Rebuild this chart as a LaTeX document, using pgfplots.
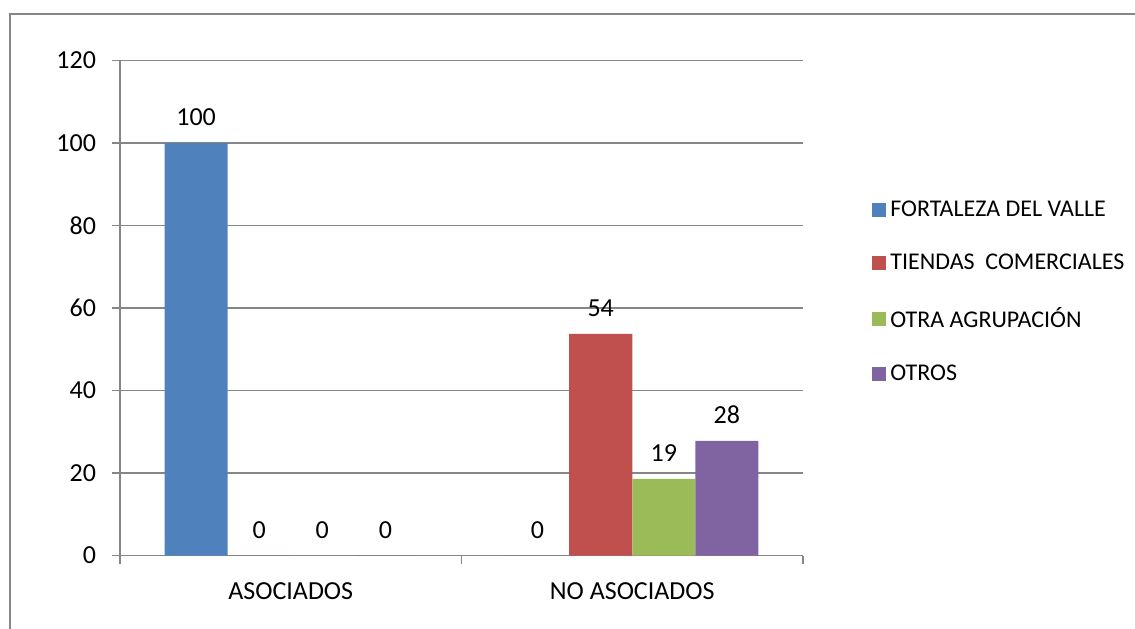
\documentclass[border=0pt]{standalone}
\usepackage{fontspec}
\setmainfont{Carlito}
\usepackage{pgfplots}
\pgfplotsset{compat=1.18}
\definecolor{cA}{HTML}{4F81BD}
\definecolor{cB}{HTML}{C0504D}
\definecolor{cC}{HTML}{9BBB59}
\definecolor{cD}{HTML}{8064A2}
\definecolor{gridc}{HTML}{868686}
\pgfplotsset{sq/.style={legend image code/.code={\fill[##1] (0pt,-3.5pt) rectangle (7pt,3.5pt);}}}
\begin{document}
\begin{tikzpicture}
\useasboundingbox (0pt,0pt) rectangle (567.5pt,-314pt);
\begin{scope}
\clip (0pt,0pt) rectangle (567.5pt,-314pt);
\draw[gridc, line width=0.7pt] (5pt,-330pt) -- (5pt,-7pt) -- (600pt,-7pt);
\end{scope}
\begin{axis}[
  at={(60pt,-277.75pt)}, anchor=south west,
  scale only axis, width=341.5pt, height=247.5pt,
  xmin=-0.5, xmax=1.5, ymin=0, ymax=120,
  ytick={0,20,...,120},
  xtick={-0.5,0.5,1.5}, xticklabels={},
  extra x ticks={0,1},
  extra x tick labels={ASOCIADOS, NO ASOCIADOS},
  extra x tick style={major tick length=0pt, xmajorgrids=false, xticklabel style={yshift=-10pt}},
  axis lines=left,
  axis line style={-, draw=gridc, line width=0.7pt},
  ymajorgrids,
  grid style={draw=gridc, line width=0.7pt},
  tick style={draw=gridc, line width=0.7pt},
  tick align=outside,
  major tick length=4pt,
  font=\fontsize{13}{15}\selectfont,
  ticklabel style={font=\fontsize{13}{15}\selectfont},
  yticklabel style={xshift=-4.5pt},
  /pgf/number format/assume math mode=true,
  ybar=0pt, bar width=0.1848,
  nodes near coords,
  point meta=y,
  nodes near coords style={font=\fontsize{13}{15}\selectfont, anchor=south, yshift=5pt, /pgf/number format/.cd, fixed, precision=0, assume math mode=true},
  legend style={at={(1.101,0.532)}, anchor=west, draw=none, fill=none, inner sep=0pt, row sep=13.2pt, font=\fontsize{12}{14}\selectfont, /tikz/every even column/.append style={column sep=4.5pt}},
  legend cell align=left,
]
\addplot[fill=cA, draw=none, sq] coordinates {(0,100) (1,0)};
\addlegendentry{FORTALEZA DEL VALLE}
\addplot[fill=cB, draw=none, sq] coordinates {(0,0) (1,53.7)};
\addlegendentry{TIENDAS\ \ COMERCIALES}
\addplot[fill=cC, draw=none, sq] coordinates {(0,0) (1,18.6)};
\addlegendentry{OTRA AGRUPACIÓN}
\addplot[fill=cD, draw=none, sq] coordinates {(0,0) (1,27.8)};
\addlegendentry{OTROS}
\end{axis}
\end{tikzpicture}
\end{document}
